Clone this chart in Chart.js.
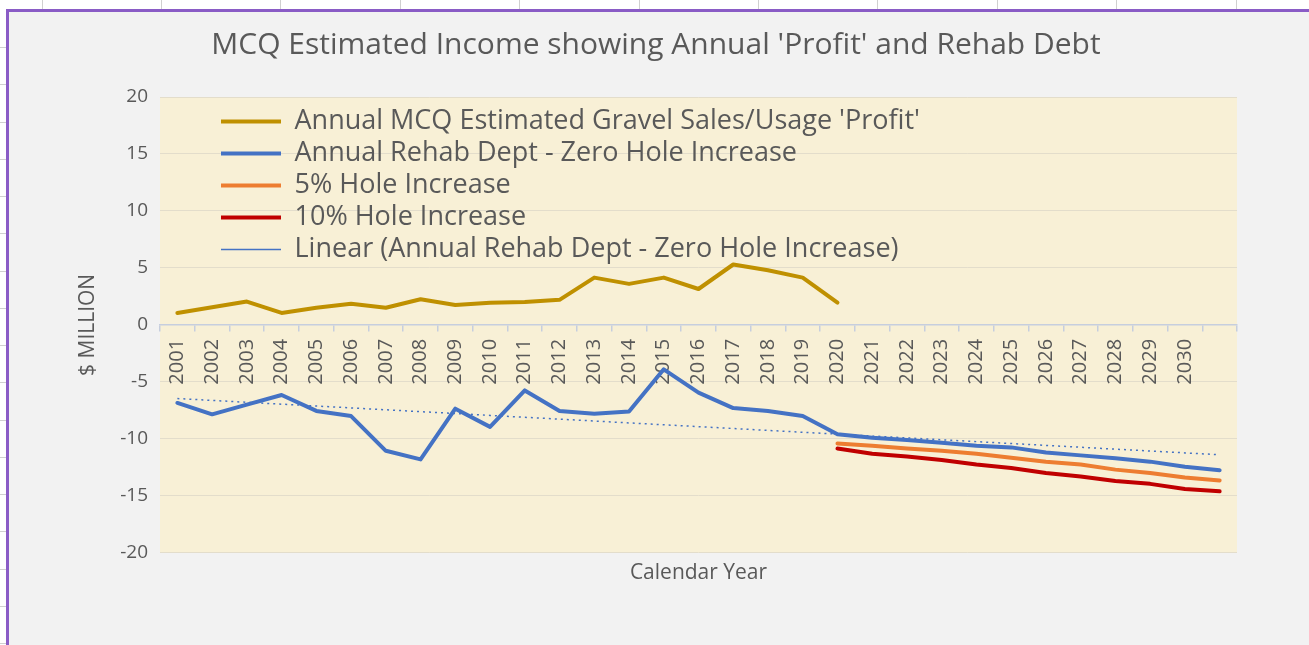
<!DOCTYPE html>
<html>
<head>
<meta charset="utf-8">
<script src="https://cdn.jsdelivr.net/npm/chart.js@4/dist/chart.umd.min.js"></script>
<style>
  html, body { margin: 0; padding: 0; background: #ffffff; overflow: hidden; }
  body { width: 1309px; height: 645px; position: relative; }
  .col { position: absolute; top: 0; width: 1px; height: 9px; background: #d0d0d0; }
  .row { position: absolute; left: 0; width: 6px; height: 1px; background: #d0d0d0; }
  #frame {
    position: absolute; left: 6px; top: 9px; width: 1310px; height: 640px;
    border-left: 3px solid #8a5cc6; border-top: 3px solid #8a5cc6;
    background: #f2f2f2;
  }
  #wrap { position: relative; width: 1300px; height: 633px; }
</style>
</head>
<body>
<div id="sheet"></div>
<div id="frame"><div id="wrap"><canvas id="chart"></canvas></div></div>
<script>
// spreadsheet grid behind the chart object
const sheet = document.getElementById('sheet');
[42, 161, 280, 400, 519, 639, 758, 877, 997, 1116, 1236].forEach(x => {
    const d = document.createElement('div');
    d.className = 'col';
    d.style.left = x + 'px';
    sheet.appendChild(d);
});
for (let y = 47; y < 645; y += 37.25) {
    const d = document.createElement('div');
    d.className = 'row';
    d.style.top = Math.round(y) + 'px';
    sheet.appendChild(d);
}

const years = ['2001', '2002', '2003', '2004', '2005', '2006', '2007', '2008', '2009', '2010',
    '2011', '2012', '2013', '2014', '2015', '2016', '2017', '2018', '2019', '2020',
    '2021', '2022', '2023', '2024', '2025', '2026', '2027', '2028', '2029', '2030', '2031'];

const profit = [1.05, 1.55, 2.05, 1.05, 1.5, 1.85, 1.5, 2.25, 1.75, 1.95,
    2.0, 2.2, 4.15, 3.6, 4.15, 3.15, 5.3, 4.8, 4.15, 1.95,
    null, null, null, null, null, null, null, null, null, null, null];

const rehabZero = [-6.85, -7.85, -7.0, -6.15, -7.55, -8.0, -11.05, -11.8, -7.35, -8.95,
    -5.75, -7.55, -7.8, -7.6, -3.9, -5.95, -7.3, -7.55, -8.0, -9.6,
    -9.9, -10.1, -10.35, -10.6, -10.75, -11.2, -11.45, -11.7, -12.0, -12.45, -12.75];

const hole5 = [null, null, null, null, null, null, null, null, null, null,
    null, null, null, null, null, null, null, null, null, -10.4,
    -10.6, -10.85, -11.05, -11.3, -11.65, -12.0, -12.25, -12.7, -13.0, -13.4, -13.65];

const hole10 = [null, null, null, null, null, null, null, null, null, null,
    null, null, null, null, null, null, null, null, null, -10.85,
    -11.3, -11.55, -11.85, -12.25, -12.55, -13.0, -13.3, -13.7, -13.95, -14.4, -14.6];

const seriesNames = [
    "Annual MCQ Estimated Gravel Sales/Usage 'Profit'",
    'Annual Rehab Dept - Zero Hole Increase',
    '5% Hole Increase',
    '10% Hole Increase',
    'Linear (Annual Rehab Dept - Zero Hole Increase)'
];

// least squares trendline of the zero-increase series, like Excel's "Linear" trendline
function linearTrend(values) {
    const n = values.length;
    let sx = 0, sy = 0, sxy = 0, sxx = 0;
    values.forEach((v, i) => { sx += i; sy += v; sxy += i * v; sxx += i * i; });
    const slope = (n * sxy - sx * sy) / (n * sxx - sx * sx);
    const icpt = (sy - slope * sx) / n;
    return values.map((v, i) => icpt + slope * i);
}
const rehabTrend = linearTrend(rehabZero);

const FONT = "'Open Sans', 'Noto Sans', sans-serif";
const TEXT = '#595959';

const plotBg = {
    id: 'plotBg',
    beforeDraw(chart) {
        const a = chart.chartArea;
        const ctx = chart.ctx;
        ctx.save();
        ctx.fillStyle = '#f8f0d6';
        ctx.fillRect(a.left, a.top, a.right - a.left, a.bottom - a.top);
        ctx.restore();
    }
};

// a vertical legend resets its top to 0, so put it back inside the plot like Excel
const legendShift = {
    id: 'legendShift',
    afterUpdate(chart) {
        const lg = chart.legend;
        if (!lg) return;
        const a = chart.chartArea;
        lg.left = a.left + 56;
        lg.right = lg.left + lg.width;
        lg.top = a.top + 6;
        lg.bottom = lg.top + lg.height;
    }
};

function line(label, data, color, width) {
    return {
        label: label, data: data, borderColor: color, backgroundColor: color,
        borderWidth: width, pointRadius: 0, tension: 0,
        borderJoinStyle: 'round', borderCapStyle: 'round'
    };
}

const trendSet = line(seriesNames[4], rehabTrend, '#4472c4', 1.5);
trendSet.borderDash = [2, 4];
trendSet.borderCapStyle = 'butt';

new Chart(document.getElementById('chart'), {
    type: 'line',
    data: {
        labels: years,
        datasets: [
            line(seriesNames[0], profit, '#bf9000', 4),
            line(seriesNames[1], rehabZero, '#4472c4', 4),
            line(seriesNames[2], hole5, '#ed7d31', 4),
            line(seriesNames[3], hole10, '#c00000', 4),
            trendSet
        ]
    },
    options: {
        responsive: true,
        maintainAspectRatio: false,
        animation: false,
        layout: { padding: { left: 66, right: 72, top: 0, bottom: 0 } },
        plugins: {
            title: {
                display: true,
                text: "MCQ Estimated Income showing Annual 'Profit' and Rehab Debt",
                color: TEXT,
                font: { family: FONT, size: 30, weight: 'normal' },
                padding: { top: 15, bottom: 34 }
            },
            subtitle: {
                display: true,
                position: 'bottom',
                fullSize: false,
                text: 'Calendar Year',
                color: TEXT,
                font: { family: FONT, size: 21 },
                padding: { top: 8, bottom: 59 }
            },
            legend: {
                position: 'chartArea',
                align: 'start',
                labels: {
                    usePointStyle: true,
                    pointStyle: 'line',
                    pointStyleWidth: 60,
                    color: TEXT,
                    font: { family: FONT, size: 27 },
                    padding: 5
                }
            },
            tooltip: { enabled: false }
        },
        scales: {
            x: {
                position: { y: 0 },
                offset: true,
                afterFit(scale) { scale.height = 0; },
                grid: {
                    drawOnChartArea: false, drawTicks: true, tickLength: 6,
                    offset: true, color: '#c6cede', lineWidth: 1.5
                },
                border: { display: true, color: '#c6cede', width: 1.5 },
                ticks: {
                    autoSkip: false, minRotation: 90, maxRotation: 90, padding: 8,
                    color: TEXT, font: { family: FONT, size: 20 },
                    // the last category carries no label in the original
                    callback(v, i) { return i === years.length - 1 ? '' : years[i]; }
                }
            },
            y: {
                min: -20, max: 20,
                afterFit(scale) { scale.width = 85; },
                grid: { color: '#e3ddcb', lineWidth: 1, drawTicks: false },
                border: { display: false },
                ticks: {
                    stepSize: 5, padding: 12, color: TEXT,
                    font: { family: FONT, size: 19 }
                },
                title: {
                    display: true, text: '$ MILLION', color: TEXT,
                    font: { family: FONT, size: 21 },
                    padding: { top: 0, bottom: 0 }
                }
            }
        }
    },
    plugins: [plotBg, legendShift]
});
</script>
</body>
</html>
